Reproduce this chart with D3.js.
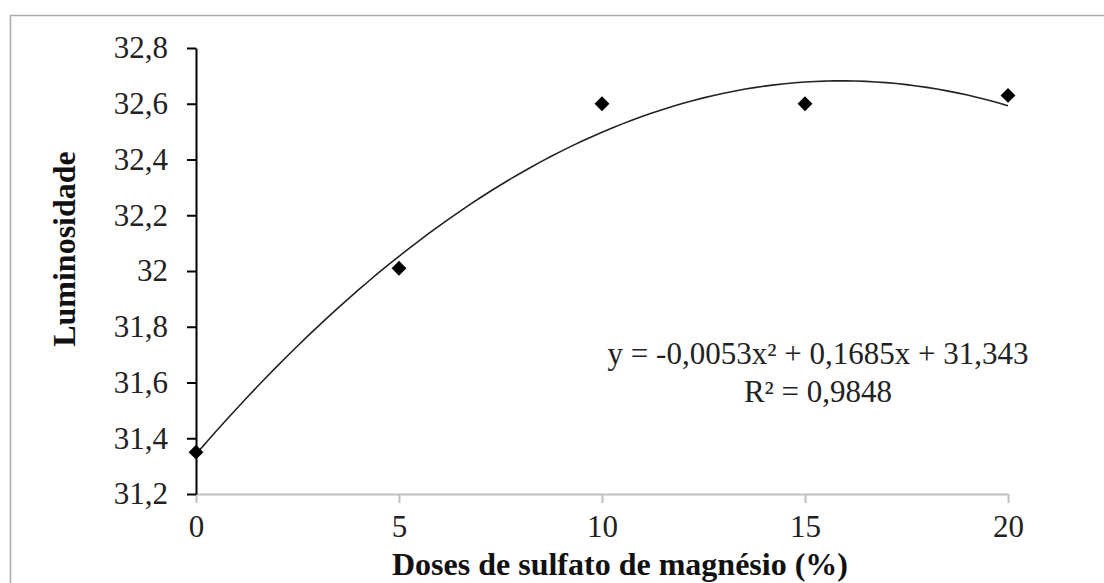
<!DOCTYPE html>
<html lang="pt">
<head>
    <meta charset="UTF-8">
    <title>Luminosidade x Doses de sulfato de magnésio</title>
    <script src="https://d3js.org/d3.v7.min.js"></script>
    <style>
        body { margin: 0; background: #fff; }
        svg { display: block; font-family: "Liberation Serif", "Times New Roman", serif; }
    </style>
</head>
<body>
    <svg width="1104" height="583"></svg>
    <script>
        // data
        const doses = [0, 5, 10, 15, 20];
        const luminosidade = [31.35, 32.01, 32.60, 32.60, 32.63];
        const xTicks = [0, 5, 10, 15, 20];
        const yTicks = [31.2, 31.4, 31.6, 31.8, 32, 32.2, 32.4, 32.6, 32.8];
        const yTickLabels = ["31,2", "31,4", "31,6", "31,8", "32", "32,2", "32,4", "32,6", "32,8"];
        // polynomial trendline y = a x^2 + b x + c, as printed on the chart
        const trendCoef = [-0.0053, 0.1685, 31.343];
        const equationLines = ["y = -0,0053x² + 0,1685x + 31,343", "R² = 0,9848"];

        const svg = d3.select("svg");

        // outer chart border (right and bottom fall outside the picture)
        svg.append("rect")
            .attr("x", 10.5).attr("y", 15.5)
            .attr("width", 1200).attr("height", 700)
            .attr("fill", "none")
            .attr("stroke", "#ababab")
            .attr("stroke-width", 1.5);

        const x = d3.scaleLinear().domain([0, 20]).range([196, 1008]);
        const y = d3.scaleLinear().domain([31.2, 32.8]).range([494, 48]);

        // x axis (grey)
        const gx = svg.append("g")
            .attr("transform", "translate(0,494)")
            .call(d3.axisBottom(x).tickValues(xTicks).tickSize(9).tickPadding(12).tickSizeOuter(0));
        gx.select(".domain").attr("stroke", "#c0c0c0").attr("stroke-width", 2);
        gx.selectAll(".tick line").attr("stroke", "#c0c0c0").attr("stroke-width", 2);
        gx.selectAll(".tick text")
            .attr("font-family", "'Liberation Serif', 'Times New Roman', serif")
            .attr("font-size", 31).attr("fill", "#222");

        // y axis (black)
        const gy = svg.append("g")
            .attr("transform", "translate(196,0)")
            .call(d3.axisLeft(y).tickValues(yTicks).tickSize(9).tickPadding(19).tickSizeOuter(0)
                .tickFormat((d, i) => yTickLabels[i]));
        gy.select(".domain").attr("stroke", "#000").attr("stroke-width", 2);
        gy.selectAll(".tick line").attr("stroke", "#000").attr("stroke-width", 2);
        gy.selectAll(".tick text")
            .attr("font-family", "'Liberation Serif', 'Times New Roman', serif")
            .attr("font-size", 31).attr("fill", "#222");

        // redraw y axis line above the x axis line
        gy.raise();

        // trendline
        const trend = d3.range(0, 20.01, 0.25).map(v => [v, trendCoef[0] * v * v + trendCoef[1] * v + trendCoef[2]]);
        svg.append("path")
            .datum(trend)
            .attr("fill", "none")
            .attr("stroke", "#222")
            .attr("stroke-width", 1.6)
            .attr("d", d3.line().x(d => x(d[0])).y(d => y(d[1])).curve(d3.curveBasis));

        // markers
        svg.selectAll(".pt")
            .data(doses)
            .enter().append("path")
            .attr("class", "pt")
            .attr("transform", (d, i) => `translate(${x(d)},${y(luminosidade[i])}) rotate(45)`)
            .attr("d", d3.symbol().type(d3.symbolSquare).size(110))
            .attr("fill", "#000");

        // equation
        svg.selectAll(".eq")
            .data(equationLines)
            .enter().append("text")
            .attr("class", "eq")
            .attr("x", 818)
            .attr("y", (d, i) => 364 + i * 38)
            .attr("text-anchor", "middle")
            .attr("font-size", 31)
            .attr("fill", "#222")
            .text(d => d);

        // axis titles
        svg.append("text")
            .attr("x", 620).attr("y", 575)
            .attr("text-anchor", "middle")
            .attr("font-size", 32).attr("font-weight", "bold")
            .attr("fill", "#111")
            .text("Doses de sulfato de magnésio (%)");

        svg.append("text")
            .attr("transform", "translate(75,249) rotate(-90)")
            .attr("text-anchor", "middle")
            .attr("font-size", 32).attr("font-weight", "bold")
            .attr("fill", "#111")
            .text("Luminosidade");
    </script>
</body>
</html>
